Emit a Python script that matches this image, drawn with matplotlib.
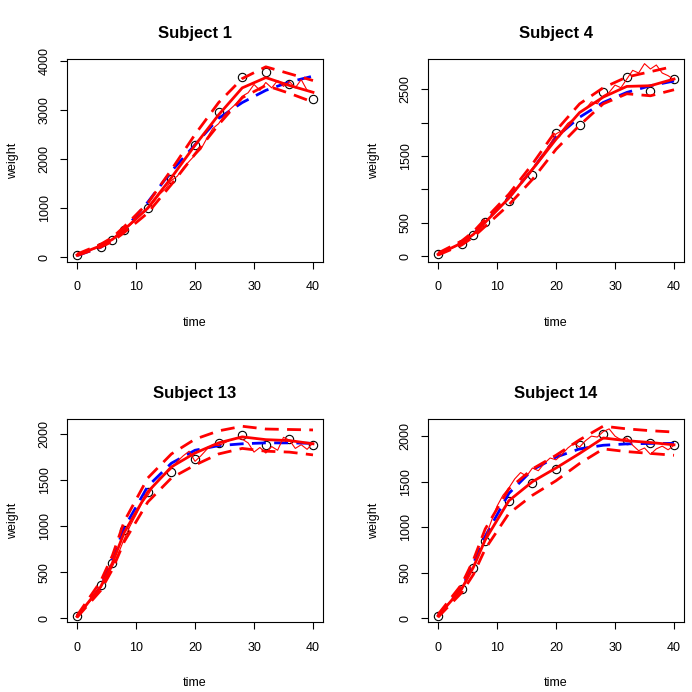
import matplotlib
matplotlib.use("Agg")
import matplotlib.pyplot as plt

plt.rcParams["font.family"] = ["Liberation Sans", "DejaVu Sans"]

# observation times (shared by all subjects)
obs_time = [0, 4, 6, 8, 12, 16, 20, 24, 28, 32, 36, 40]
# fine grid for the simulated (jagged) path
sim_time = [0, 1, 2, 3, 4, 5, 6, 7, 8, 9, 10, 11, 12, 13, 14, 15, 16, 17, 18,
            19, 20, 21, 22, 23, 24, 25, 26, 27, 28, 29, 30, 31, 32, 33, 34, 35,
            36, 37, 38, 39, 40]

titles = ["Subject 1", "Subject 4", "Subject 13", "Subject 14"]

# observed weights (open circles)
obs_s1 = [40, 210, 350, 560, 1010, 1590, 2290, 2950, 3680, 3780, 3520, 3230]
obs_s4 = [30, 190, 325, 513, 822, 1220, 1840, 1962, 2450, 2680, 2470, 2650]
obs_s13 = [20, 361, 596, 957, 1373, 1590, 1725, 1898, 1988, 1880, 1941, 1880]
obs_s14 = [25, 322, 551, 845, 1284, 1487, 1634, 1898, 2019, 1956, 1927, 1898]

# population prediction (blue dashed)
pop_s1 = [30, 200, 350, 560, 1120, 1750, 2290, 2830, 3150, 3400, 3570, 3690]
pop_s4 = [30, 200, 340, 520, 880, 1300, 1780, 2080, 2300, 2450, 2550, 2620]
pop_s13 = [20, 340, 640, 980, 1430, 1680, 1820, 1870, 1890, 1900, 1900, 1895]
pop_s14 = [25, 330, 600, 900, 1370, 1630, 1770, 1860, 1900, 1915, 1920, 1920]

# median of individual predictions (thick red)
med_s1 = [40, 230, 360, 560, 1000, 1620, 2280, 2900, 3450, 3660, 3500, 3360]
med_s4 = [30, 200, 330, 510, 870, 1300, 1750, 2150, 2380, 2540, 2550, 2650]
med_s13 = [20, 340, 600, 930, 1370, 1640, 1790, 1900, 1965, 1935, 1925, 1890]
med_s14 = [25, 320, 560, 860, 1290, 1500, 1650, 1810, 1980, 1950, 1930, 1905]

# upper / lower prediction bands (red dashed)
upr_s1 = [60, 260, 400, 620, 1100, 1780, 2500, 3150, 3640, 3880, 3740, 3600]
lwr_s1 = [30, 200, 320, 500, 900, 1480, 2100, 2700, 3250, 3500, 3340, 3160]
upr_s4 = [50, 230, 370, 560, 930, 1380, 1880, 2280, 2520, 2680, 2760, 2840]
lwr_s4 = [20, 170, 290, 450, 770, 1150, 1600, 1960, 2280, 2430, 2400, 2490]
upr_s13 = [30, 400, 680, 1050, 1520, 1780, 1940, 2030, 2080, 2050, 2045, 2040]
lwr_s13 = [10, 300, 530, 830, 1260, 1520, 1660, 1780, 1840, 1810, 1800, 1770]
upr_s14 = [40, 370, 640, 980, 1420, 1640, 1790, 1960, 2110, 2080, 2060, 2045]
lwr_s14 = [10, 280, 480, 760, 1150, 1350, 1510, 1700, 1860, 1830, 1810, 1790]

# one simulated trajectory (thin red)
sim_s1 = [30, 80, 130, 170, 220, 290, 370, 460, 560, 650, 760, 880, 980, 1120,
          1280, 1390, 1560, 1650, 1820, 1950, 2080, 2200, 2420, 2620, 2720, 2900,
          3020, 3130, 3280, 3350, 3520, 3400, 3560, 3450, 3600, 3480, 3580, 3450,
          3620, 3400, 3360]
sim_s4 = [30, 70, 110, 150, 200, 260, 330, 420, 510, 600, 690, 780, 880, 980,
          1100, 1210, 1320, 1430, 1560, 1680, 1830, 1880, 1990, 2050, 2150, 2200,
          2310, 2280, 2400, 2450, 2560, 2520, 2650, 2780, 2740, 2880, 2800, 2860,
          2740, 2700, 2640]
sim_s13 = [20, 90, 170, 250, 330, 440, 560, 700, 860, 1000, 1120, 1250, 1330,
           1440, 1520, 1560, 1620, 1700, 1760, 1810, 1700, 1760, 1830, 1880, 1870,
           1900, 1930, 1950, 1940, 1900, 1800, 1850, 1790, 1860, 1820, 1960, 1930,
           1840, 1880, 1830, 1900]
sim_s14 = [25, 100, 180, 260, 330, 440, 560, 720, 880, 1060, 1230, 1350, 1430,
           1530, 1600, 1560, 1650, 1620, 1700, 1760, 1740, 1800, 1870, 1920, 1880,
           1950, 2000, 1990, 2050, 2080, 2000, 1960, 1980, 1900, 1840, 1870, 1800,
           1860, 1890, 1850, 1900]

y_ticks = [[0, 1000, 2000, 3000, 4000],
           [0, 500, 1000, 1500, 2000, 2500],
           [0, 500, 1000, 1500, 2000],
           [0, 500, 1000, 1500, 2000]]
y_labels = [["0", "1000", "2000", "3000", "4000"],
            ["0", "500", "", "1500", "", "2500"],
            ["0", "500", "1000", "1500", "2000"],
            ["0", "500", "1000", "1500", "2000"]]
y_limits = [(-95, 4040), (-79, 2950), (-43, 2160), (-46, 2190)]

panels = [
    (obs_s1, pop_s1, med_s1, upr_s1, lwr_s1, sim_s1),
    (obs_s4, pop_s4, med_s4, upr_s4, lwr_s4, sim_s4),
    (obs_s13, pop_s13, med_s13, upr_s13, lwr_s13, sim_s13),
    (obs_s14, pop_s14, med_s14, upr_s14, lwr_s14, sim_s14),
]

fig = plt.figure(figsize=(6.92, 6.92), dpi=100)
positions = [
    [0.0973, 0.6218, 0.369, 0.293],
    [0.619, 0.6218, 0.369, 0.293],
    [0.0973, 0.1007, 0.369, 0.294],
    [0.619, 0.1007, 0.369, 0.294],
]
dash = (0, (5, 3))

for i, (obs, pop, med, upr, lwr, sim) in enumerate(panels):
    ax = fig.add_axes(positions[i])
    ax.plot(obs_time, obs, "o", ms=6, mfc="none", mec="black", mew=0.8)
    ax.plot(obs_time, pop, color="#0000ff", lw=2, linestyle=dash)
    ax.plot(sim_time, sim, color="#ff0000", lw=0.8)
    ax.plot(obs_time, med, color="#ff0000", lw=2)
    ax.plot(obs_time, upr, color="#ff0000", lw=2, linestyle=dash)
    ax.plot(obs_time, lwr, color="#ff0000", lw=2, linestyle=dash)

    ax.set_xlim(-1.64, 41.64)
    ax.set_ylim(*y_limits[i])
    ax.set_xticks([0, 10, 20, 30, 40])
    ax.set_yticks(y_ticks[i])
    ax.set_yticklabels(y_labels[i], rotation=90, va="center")
    ax.tick_params(direction="out", length=5, width=0.8, labelsize=9)
    ax.tick_params(axis="x", pad=9)
    ax.tick_params(axis="y", pad=7)
    for sp in ax.spines.values():
        sp.set_linewidth(0.8)
    ax.set_xlabel("time", fontsize=9, labelpad=17)
    ax.set_ylabel("weight", fontsize=9, labelpad=14)
    ax.set_title(titles[i], fontsize=12, fontweight="bold", pad=15)

fig.savefig("out.png", dpi=100)
